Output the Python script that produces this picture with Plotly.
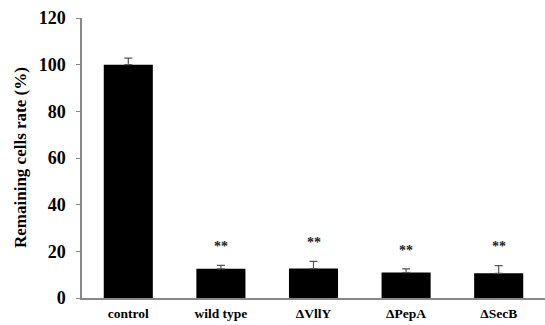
import plotly.graph_objects as go

categories = ["control", "wild type", "ΔVllY", "ΔPepA", "ΔSecB"]
values = [100, 12.5, 12.6, 10.9, 10.6]
errors = [2.8, 1.5, 3.1, 1.6, 3.3]
marks = ["", "**", "**", "**", "**"]
tick_vals = [0, 20, 40, 60, 80, 100, 120]

fig = go.Figure()
fig.add_trace(go.Bar(
    x=categories, y=values,
    marker=dict(color="black", line=dict(width=0)),
    error_y=dict(type="data", array=errors, arrayminus=[0]*len(errors),
                 symmetric=False, color="#555", thickness=1.2, width=4),
    width=0.53,
))

for c, v, e, m in zip(categories, values, errors, marks):
    if m:
        fig.add_annotation(x=c, y=v + e + 4, text="<b>" + m + "</b>", showarrow=False,
                           yanchor="bottom",
                           font=dict(family="Liberation Serif", size=14, color="#222"))

fig.add_annotation(xref="paper", yref="paper", x=0, y=0.5, xshift=-62,
                   xanchor="center", yanchor="middle", textangle=-90,
                   showarrow=False, text="<b>Remaining cells rate (%)</b>",
                   font=dict(family="Liberation Serif", size=17, color="black"))

fig.update_layout(
    width=545, height=325,
    margin=dict(l=82, r=0, t=18, b=27),
    plot_bgcolor="white", paper_bgcolor="white",
    showlegend=False,
    font=dict(family="Liberation Serif", color="black"),
    xaxis=dict(
        range=[-0.5, 4.5], showline=True, linecolor="#888", linewidth=1.5,
        ticks="", tickfont=dict(size=13.5, family="Liberation Serif", weight="bold", color="black"),
        ticklabelstandoff=2, showgrid=False, automargin=False,
    ),
    yaxis=dict(
        range=[0, 120], tickvals=tick_vals, showline=True, linecolor="#888",
        linewidth=1.5, ticks="outside", ticklen=4, tickcolor="#888",
        tickfont=dict(size=18, family="Liberation Serif", weight="bold", color="black"),
        ticklabelstandoff=7,
        showgrid=False, zeroline=False, automargin=False,
    ),
)

fig.write_html("out.html", config={"displayModeBar": False})
with open("out.html", encoding="utf-8") as f:
    html = f.read()
html = html.replace("<head>", "<head><style>html,body{margin:0;padding:0;overflow:hidden;}</style>", 1)
with open("out.html", "w", encoding="utf-8") as f:
    f.write(html)
